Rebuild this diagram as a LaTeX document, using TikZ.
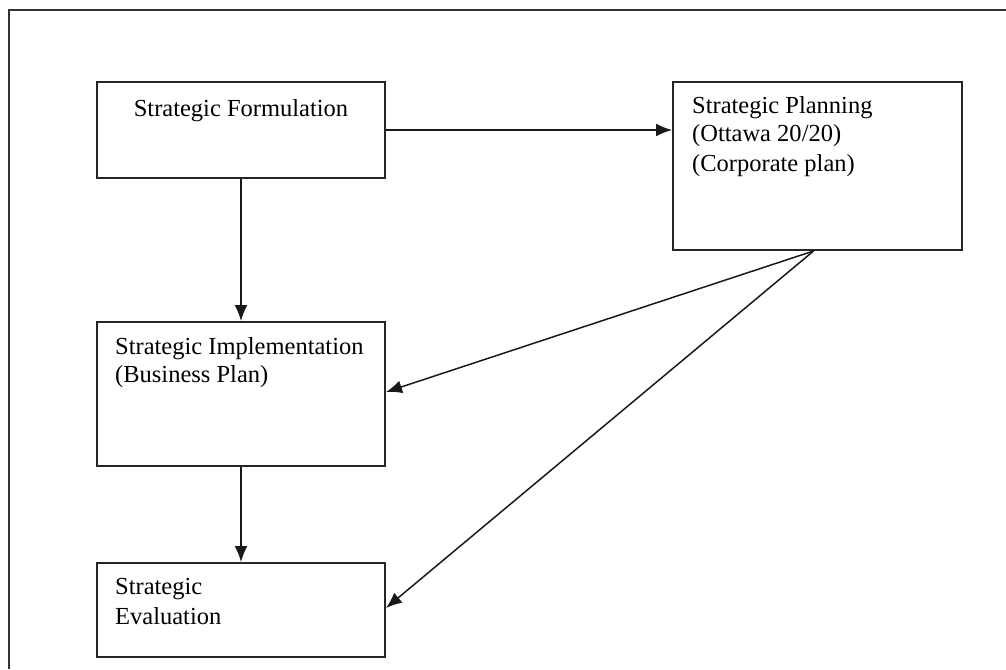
\documentclass[tikz,border=0pt]{standalone}
\usepackage{fontspec}
\setmainfont{Liberation Serif}
\usetikzlibrary{calc, arrows.meta, positioning}

\begin{document}
\begin{tikzpicture}[x=1pt, y=-1pt, >={Latex[length=16pt, width=13pt]},
    box/.style={draw=black!85, line width=2pt, rectangle, inner sep=0pt, minimum width=288pt},
    txt/.style={font=\fontsize{24.5}{29}\selectfont, inner sep=0pt, anchor=base west},
    link/.style={->, line width=1.5pt, draw=black!90}]
    \useasboundingbox (0,0) rectangle (1006,669);

    % Coordinates
    \coordinate (F) at (241,130);
    \coordinate (P) at (817.5,166);
    \coordinate (I) at (241,394);
    \coordinate (E) at (241,610);

    % Frame
    \draw[line width=2pt, black!80] (9,669) -- (9,10) -- (1006,10);

    % Formulation
    \node[box, minimum height=96pt] (form) at (F) {};
    % Text
    \node[txt, anchor=base] (formtxt) at ($(form.north)+(0,35)$) {Strategic Formulation};

    % Planning
    \node[box, minimum width=289pt, minimum height=168pt] (plan) at (P) {};
    % Text
    \node[txt] (plantxta) at ($(plan.north west)+(20,32)$) {Strategic Planning};
    \node[txt] (plantxtb) at ($(plan.north west)+(20,60)$) {(Ottawa 20/20)};
    \node[txt] (plantxtc) at ($(plan.north west)+(20,90)$) {(Corporate plan)};

    % Implementation
    \node[box, minimum height=144pt] (impl) at (I) {};
    % Text
    \node[txt] (impltxta) at ($(impl.north west)+(19,33)$) {Strategic Implementation};
    \node[txt] (impltxtb) at ($(impl.north west)+(19,61)$) {(Business Plan)};

    % Evaluation
    \node[box, minimum height=94pt] (eval) at (E) {};
    % Text
    \node[txt] (evaltxta) at ($(eval.north west)+(19,32)$) {Strategic};
    \node[txt] (evaltxtb) at ($(eval.north west)+(19,62)$) {Evaluation};

    % Arrows
    \draw[link] (form.east) -- (form.east -| plan.west);
    \draw[link] (form.south) -- (impl.north);
    \draw[link] (impl.south) -- (eval.north);
    \draw[link] ($(plan.south)+(-4,0)$) -- ($(impl.east)+(0,-2)$);
    \draw[link] ($(plan.south)+(-4,0)$) -- ($(eval.east)+(0,-2)$);
\end{tikzpicture}
\end{document}
